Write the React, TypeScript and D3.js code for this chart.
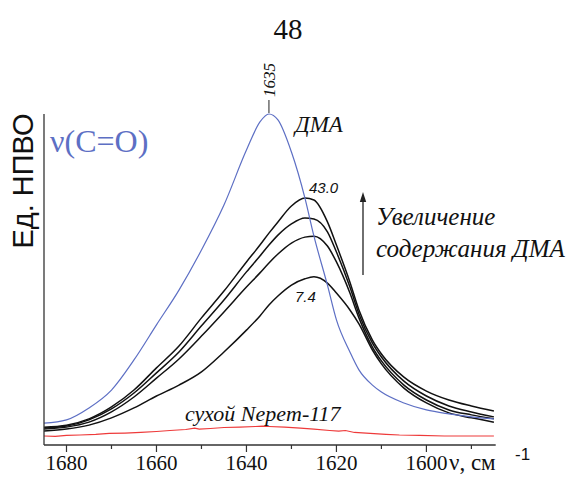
import React from "react";
import * as d3 from "d3";

// Wavenumber grid (cm^-1) shared by the DMA and membrane spectra
const wavenumbers = [1685, 1680, 1675, 1670, 1665, 1660, 1655, 1650, 1645, 1640, 1637, 1635, 1633, 1630, 1627, 1625, 1622, 1620, 1617, 1615, 1612, 1610, 1605, 1600, 1595, 1590, 1585];

// Pure DMA, ν(C=O) band with maximum at 1635
const dmaSpectrum = [0.066, 0.076, 0.112, 0.166, 0.257, 0.363, 0.468, 0.589, 0.725, 0.891, 0.976, 1.0, 0.982, 0.885, 0.746, 0.631, 0.483, 0.378, 0.281, 0.227, 0.181, 0.16, 0.127, 0.106, 0.094, 0.085, 0.079];

// Membrane swollen with increasing DMA content (7.4 ... 43.0)
const sample1 = [0.042, 0.048, 0.06, 0.082, 0.112, 0.148, 0.181, 0.221, 0.281, 0.347, 0.39, 0.423, 0.45, 0.483, 0.502, 0.508, 0.489, 0.459, 0.408, 0.366, 0.287, 0.245, 0.172, 0.127, 0.097, 0.082, 0.069];
const sample2 = [0.048, 0.054, 0.069, 0.1, 0.145, 0.202, 0.26, 0.329, 0.402, 0.477, 0.52, 0.55, 0.577, 0.61, 0.628, 0.631, 0.601, 0.553, 0.459, 0.384, 0.296, 0.254, 0.181, 0.136, 0.106, 0.091, 0.079];
const sample3 = [0.051, 0.057, 0.076, 0.109, 0.157, 0.218, 0.281, 0.36, 0.438, 0.523, 0.571, 0.604, 0.634, 0.668, 0.686, 0.683, 0.644, 0.583, 0.477, 0.396, 0.308, 0.266, 0.193, 0.148, 0.118, 0.1, 0.085];
const sample4 = [0.054, 0.06, 0.079, 0.115, 0.166, 0.233, 0.299, 0.384, 0.465, 0.553, 0.604, 0.64, 0.674, 0.722, 0.746, 0.74, 0.674, 0.604, 0.492, 0.408, 0.317, 0.275, 0.205, 0.163, 0.136, 0.118, 0.103];
const sampleSeries = [sample1, sample2, sample3, sample4];

// Dry membrane
const dryWavenumbers = [1685, 1682.5, 1680, 1677, 1673.5, 1670.5, 1667, 1663.5, 1660, 1657, 1653.5, 1651.5, 1650.5, 1648, 1645, 1641.5, 1638, 1636.5, 1635, 1631.5, 1628, 1625, 1621.5, 1619.5, 1618, 1616, 1612.5, 1609, 1606, 1601.5, 1596, 1590.5, 1585];
const drySpectrum = [0.027, 0.026, 0.029, 0.03, 0.032, 0.035, 0.036, 0.038, 0.041, 0.044, 0.047, 0.051, 0.048, 0.05, 0.053, 0.054, 0.056, 0.057, 0.056, 0.054, 0.051, 0.048, 0.044, 0.042, 0.044, 0.038, 0.035, 0.032, 0.03, 0.029, 0.027, 0.027, 0.027];

const majorTicks = [1680, 1660, 1640, 1620, 1600];
const minorTicks = [1670, 1650, 1630, 1610, 1590];

const peakLabel = "1635";
const lowLabel = "7.4";
const highLabel = "43.0";

const W = 576;
const H = 477;
const left = 44;
const right = 495.7;
const top = 114;
const bottom = 445;

export default function App() {
  const x = d3.scaleLinear().domain([1685, 1584.6]).range([left, right]);
  const y = d3.scaleLinear().domain([0, 1]).range([bottom, top]);

  const smooth = d3
    .line<[number, number]>()
    .x((d) => x(d[0]))
    .y((d) => y(d[1]))
    .curve(d3.curveMonotoneX);
  const raw = d3
    .line<[number, number]>()
    .x((d) => x(d[0]))
    .y((d) => y(d[1]));

  const zip = (xs: number[], ys: number[]) => xs.map((v, i) => [v, ys[i]] as [number, number]);

  const peakX = x(+peakLabel);
  const peakY = y(d3.max(dmaSpectrum) as number);
  const blue = "#5d6fc4";
  const arrowX = 363;
  const arrowTop = 192;
  const arrowBottom = 275;

  return (
    <svg width={W} height={H} fontFamily="Liberation Serif" style={{ position: "absolute", left: 0, top: 0, background: "#fff" }}>
      {/* spectra */}
      <path d={raw(zip(dryWavenumbers, drySpectrum)) || ""} fill="none" stroke="#ee3a3a" strokeWidth={1.1} />
      {sampleSeries.map((s, i) => (
        <path key={i} d={smooth(zip(wavenumbers, s)) || ""} fill="none" stroke="#111" strokeWidth={1.5} />
      ))}
      <path d={smooth(zip(wavenumbers, dmaSpectrum)) || ""} fill="none" stroke={blue} strokeWidth={1.2} />

      {/* axes */}
      <line x1={left} x2={left} y1={top} y2={bottom} stroke="#333" strokeWidth={1.3} />
      <line x1={left} x2={right} y1={bottom} y2={bottom} stroke="#333" strokeWidth={1.3} />
      {majorTicks.map((t) => (
        <line key={t} x1={x(t)} x2={x(t)} y1={bottom} y2={bottom + 7} stroke="#333" strokeWidth={1.2} />
      ))}
      {minorTicks.map((t) => (
        <line key={t} x1={x(t)} x2={x(t)} y1={bottom} y2={bottom + 4} stroke="#333" strokeWidth={1.2} />
      ))}

      {/* peak marker and arrow */}
      <line x1={peakX} x2={peakX} y1={peakY - 1} y2={peakY - 14} stroke="#222" strokeWidth={1} />
      <line x1={arrowX} x2={arrowX} y1={arrowBottom} y2={arrowTop + 8} stroke="#222" strokeWidth={1.3} />
      <path d={`M${arrowX - 3.2},${arrowTop + 10} L${arrowX},${arrowTop} L${arrowX + 3.2},${arrowTop + 10} Z`} fill="#222" />

      {/* serif texts */}
      <text x={288} y={39} textAnchor="middle" fontFamily="Liberation Serif" fontSize={29} fill="#111">48</text>
      {majorTicks.map((t) => (
        <text key={t} x={x(t)} y={470} textAnchor="middle" fontFamily="Liberation Serif" fontSize={21} fill="#111">{t}</text>
      ))}
      <text x={449} y={470} fontFamily="Liberation Serif" fontSize={23} fill="#111">ν, см</text>
      <text x={50} y={152} fontFamily="Liberation Serif" fontSize={32} fill={blue}>ν(C=O)</text>
      <text transform={`translate(${peakX + 6},${peakY - 34}) rotate(-90)`} textAnchor="middle" fontFamily="Liberation Serif" fontStyle="italic" fontSize={17} fill="#111">{peakLabel}</text>
      <text x={295} y={132} fontFamily="Liberation Serif" fontStyle="italic" fontSize={23} fill="#111">ДМА</text>
      <text x={376} y={225} fontFamily="Liberation Serif" fontStyle="italic" fontSize={25} fill="#111">Увеличение</text>
      <text x={376} y={257} fontFamily="Liberation Serif" fontStyle="italic" fontSize={25} fill="#111">содержания ДМА</text>
      <text x={185} y={421} fontFamily="Liberation Serif" fontStyle="italic" fontSize={22} fill="#111">сухой Nepem-117</text>

      {/* sans texts */}
      <text x={515} y={460} fontFamily="Liberation Sans" fontSize={17} fill="#111">-1</text>
      <text transform="translate(33,181) rotate(-90)" textAnchor="middle" fontFamily="Liberation Sans" fontSize={29} fill="#111">Ед. НПВО</text>
      <text x={309} y={193} fontFamily="Liberation Sans" fontStyle="italic" fontSize={15} fill="#111">{highLabel}</text>
      <text x={295} y={302} fontFamily="Liberation Sans" fontStyle="italic" fontSize={15} fill="#111">{lowLabel}</text>
    </svg>
  );
}
